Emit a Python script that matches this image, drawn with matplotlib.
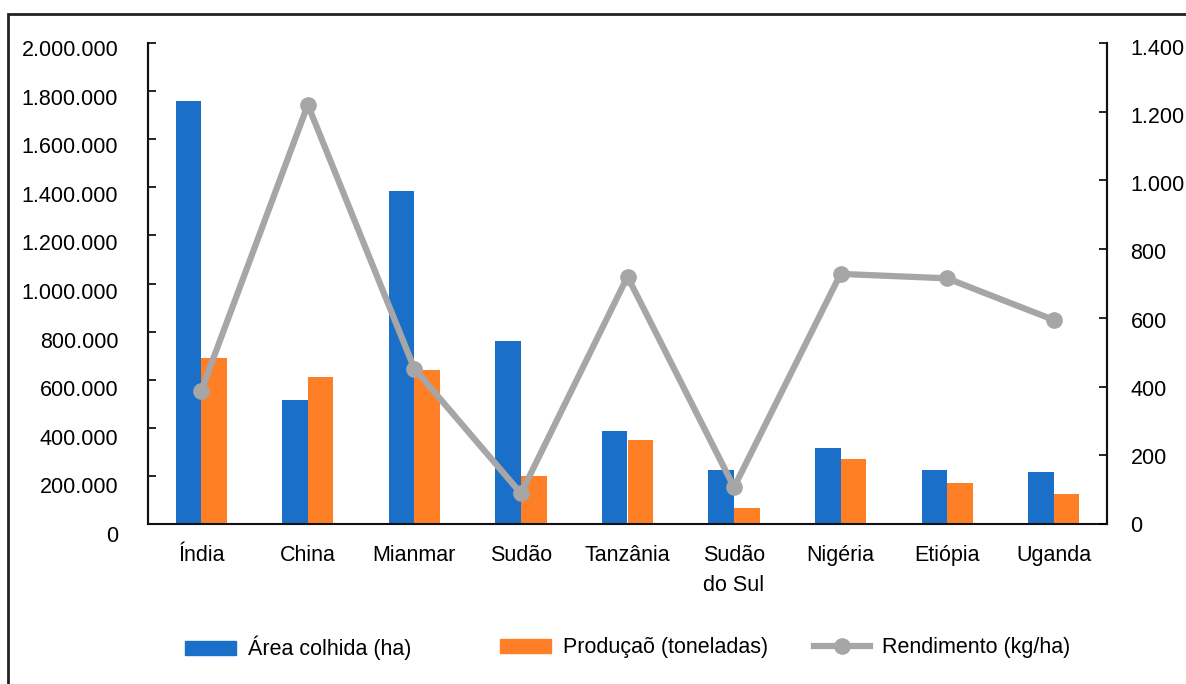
import matplotlib.pyplot as plt
import matplotlib.transforms as mtransforms
from matplotlib.patches import Rectangle
from matplotlib.lines import Line2D
import numpy as np

plt.rcParams['font.family'] = ['Liberation Sans', 'DejaVu Sans']

paises = ["Índia", "China", "Mianmar", "Sudão", "Tanzânia", "Sudão\ndo Sul",
          "Nigéria", "Etiópia", "Uganda"]
area_colhida = [1760000, 515000, 1383000, 760000, 387000, 223000, 315000, 223000, 215000]
producao = [690000, 612000, 640000, 201000, 348000, 68000, 270000, 169000, 126000]
rendimento = [388, 1220, 452, 89, 720, 107, 728, 715, 594]

left_ticks = [0, 200000, 400000, 600000, 800000, 1000000, 1200000, 1400000,
              1600000, 1800000, 2000000]
right_ticks = [0, 200, 400, 600, 800, 1000, 1200, 1400]

azul = "#1A6FC9"
laranja = "#FF7F27"
cinza = "#A6A6A6"
fs = 15.5


def fmt(v):
    return f"{v:,}".replace(",", ".")


fig = plt.figure(figsize=(11.86, 6.84), dpi=100)
ax = fig.add_axes([148 / 1186, 1 - 524 / 684, (1107 - 148) / 1186, (524 - 43) / 684])
ax2 = ax.twinx()

x = np.arange(len(paises))
w = 0.24
ax.bar(x - w / 2, area_colhida, w, color=azul, zorder=2)
ax.bar(x + w / 2, producao, w, color=laranja, zorder=2)
ax2.plot(x, rendimento, color=cinza, lw=4.5, marker="o", ms=11, zorder=3)

ax.set_xlim(-0.5, len(paises) - 0.5)
ax.set_ylim(0, 2000000)
ax2.set_ylim(0, 1400)

ax.set_yticks(left_ticks)
ax.set_yticklabels([fmt(v) for v in left_ticks])
ax2.set_yticks(right_ticks)
ax2.set_yticklabels([fmt(v) for v in right_ticks])
ax.set_xticks(x)
ax.set_xticklabels(paises, linespacing=1.55)

ax.tick_params(axis="y", direction="in", length=6, width=1.2, pad=21.5, labelsize=fs)
ax2.tick_params(axis="y", direction="in", length=6, width=1.2, pad=17, labelsize=fs)
ax.tick_params(axis="x", length=0, pad=15, labelsize=fs)

for a in (ax, ax2):
    a.spines["top"].set_visible(False)
    for s in ("left", "right", "bottom"):
        a.spines[s].set_linewidth(1.5)
        a.spines[s].set_color("#111111")
ax2.spines["bottom"].set_visible(False)

# Excel-like slight downward offset of tick labels
for v, lab in zip(left_ticks, ax.get_yticklabels()):
    dy = (5 + 5 * (1 - v / 2000000)) / 100
    lab.set_transform(lab.get_transform() + mtransforms.ScaledTranslation(0, -dy, fig.dpi_scale_trans))
for v, lab in zip(right_ticks, ax2.get_yticklabels()):
    dy = (4 * v / 1400) / 100
    lab.set_transform(lab.get_transform() + mtransforms.ScaledTranslation(0, -dy, fig.dpi_scale_trans))

# legend: three equal-width Excel-style columns
handles = [Rectangle((0, 0), 1, 1, color=azul),
           Rectangle((0, 0), 1, 1, color=laranja),
           Line2D([], [], color=cinza, lw=4.5, marker="o", ms=11)]
labels = ["Área colhida (ha)", "Produçaõ (toneladas)", "Rendimento (kg/ha)"]
starts = [185, 500, 814]
hlens = [2.37, 2.37, 2.6]
for h, l, sx, hl in zip(handles, labels, starts, hlens):
    fig.legend([h], [l], loc="center left", bbox_to_anchor=(sx / 1186, 1 - 648 / 684),
               frameon=False, fontsize=fs, handlelength=hl, handleheight=0.65,
               handletextpad=0.55, borderpad=0, borderaxespad=0)

fig.patches.append(Rectangle((8 / 1186, -0.2), 1.2, 1.2 - 14 / 684, transform=fig.transFigure,
                             fill=False, lw=2, ec="#222222"))

fig.savefig("out.png", dpi=100)
